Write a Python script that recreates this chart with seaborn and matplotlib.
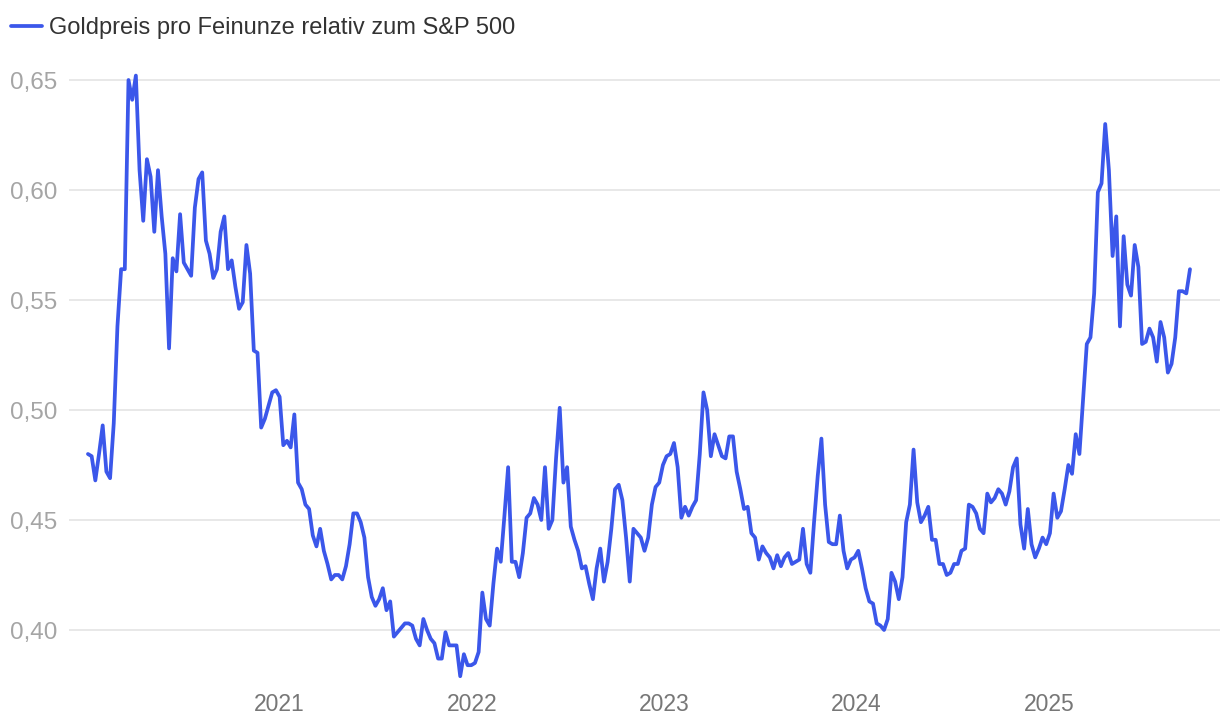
import pandas as pd
import seaborn as sns
import matplotlib.pyplot as plt
from matplotlib.ticker import FuncFormatter

# weekly values (Fridays), gold price per ounce divided by S&P 500
ratio_2020 = [0.480, 0.479, 0.468, 0.480, 0.493, 0.472, 0.469, 0.494, 0.538, 0.564, 0.564, 0.650, 0.641, 0.652,
              0.609, 0.586, 0.614, 0.606, 0.581, 0.609, 0.588, 0.571, 0.528, 0.569, 0.563, 0.589, 0.567,
              0.564, 0.561, 0.592, 0.605, 0.608, 0.577, 0.571, 0.560, 0.564, 0.581, 0.588, 0.564, 0.568, 0.556,
              0.546, 0.549, 0.575, 0.562, 0.527, 0.526,
              0.492, 0.496, 0.502, 0.508, 0.509]
ratio_2021 = [0.506, 0.484, 0.486, 0.483, 0.498,
              0.467, 0.464, 0.457, 0.455, 0.443, 0.438, 0.446, 0.436, 0.430, 0.423, 0.425, 0.425, 0.423,
              0.429, 0.439, 0.453, 0.453, 0.449, 0.442, 0.424, 0.415, 0.411, 0.414, 0.419, 0.409, 0.413, 0.397, 0.399,
              0.401, 0.403, 0.403, 0.402, 0.396, 0.393, 0.405, 0.400, 0.396, 0.394, 0.387, 0.387, 0.399, 0.393,
              0.393, 0.393, 0.379, 0.389, 0.384]
ratio_2022 = [0.384, 0.385, 0.390,
              0.417, 0.405, 0.402, 0.421, 0.437, 0.431, 0.452, 0.474, 0.431, 0.431, 0.424, 0.435, 0.451, 0.453,
              0.460, 0.457, 0.450, 0.474, 0.446, 0.450, 0.478, 0.501, 0.467, 0.474,
              0.447, 0.441, 0.436, 0.428, 0.429, 0.421, 0.414, 0.428, 0.437, 0.422, 0.431, 0.446, 0.464, 0.466,
              0.459, 0.442, 0.422, 0.446, 0.444, 0.442, 0.436, 0.442,
              0.457, 0.465, 0.467, 0.475]
ratio_2023 = [0.479, 0.480, 0.485, 0.474, 0.451, 0.456, 0.452, 0.456, 0.459, 0.480, 0.508, 0.500, 0.479, 0.489,
              0.484, 0.479, 0.478, 0.488, 0.488,
              0.472, 0.464, 0.455, 0.456, 0.444, 0.442, 0.432, 0.438, 0.435, 0.433, 0.428, 0.434, 0.429, 0.433,
              0.435, 0.430, 0.431, 0.432, 0.446, 0.430, 0.426, 0.449, 0.470, 0.487,
              0.457, 0.440, 0.439, 0.439, 0.452, 0.436, 0.428, 0.432, 0.433]
ratio_2024 = [0.436, 0.428, 0.419, 0.413, 0.412, 0.403, 0.402, 0.400, 0.405, 0.426, 0.422, 0.414, 0.424,
              0.449, 0.457, 0.482, 0.458, 0.449, 0.452, 0.456, 0.441, 0.441, 0.430, 0.430, 0.425, 0.426, 0.430,
              0.430, 0.436, 0.437, 0.457, 0.456, 0.453, 0.446, 0.444,
              0.462, 0.458, 0.460, 0.464, 0.462, 0.457, 0.463, 0.474, 0.478, 0.448, 0.437, 0.455, 0.439, 0.433,
              0.437, 0.442, 0.439]
ratio_2025 = [0.444, 0.462, 0.451, 0.454, 0.464, 0.475, 0.471, 0.489, 0.480,
              0.505, 0.530, 0.533, 0.553, 0.599, 0.603, 0.630, 0.609, 0.570, 0.588, 0.538, 0.579, 0.557, 0.552,
              0.575, 0.565, 0.530, 0.531, 0.537, 0.533, 0.522, 0.540, 0.533, 0.517, 0.521, 0.533, 0.554, 0.554,
              0.553, 0.564]

first_week = "2020-01-03"
year_ticks = ["2021-01-01", "2022-01-01", "2023-01-01", "2024-01-01", "2025-01-01"]
year_labels = ["2021", "2022", "2023", "2024", "2025"]
y_ticks = [0.40, 0.45, 0.50, 0.55, 0.60, 0.65]
series_name = "Goldpreis pro Feinunze relativ zum S&P 500"

values = ratio_2020 + ratio_2021 + ratio_2022 + ratio_2023 + ratio_2024 + ratio_2025
df = pd.DataFrame({
    "date": pd.date_range(first_week, periods=len(values), freq="W-FRI"),
    "value": values,
})

sns.set_style("white")
plt.rcParams["font.family"] = ["Liberation Sans", "DejaVu Sans"]

fig = plt.figure(figsize=(12.2, 7.24), dpi=100)
ax = fig.add_axes([69 / 1220, (724 - 687.2) / 724, (1220 - 69) / 1220, 629.2 / 724])

sns.lineplot(data=df, x="date", y="value", ax=ax, color="#3b57ea", linewidth=2.7, label=series_name)

ax.set_xlim(pd.Timestamp("2019-11-28"), pd.Timestamp("2025-11-22"))
ax.set_ylim(0.374, 0.66)
ax.set_yticks(y_ticks)
ax.yaxis.set_major_formatter(FuncFormatter(lambda v, p: f"{v:.2f}".replace(".", ",")))
ax.set_xticks(pd.to_datetime(year_ticks))
ax.set_xticklabels(year_labels)
ax.set_xlabel("")
ax.set_ylabel("")

ax.yaxis.grid(True, color="#e6e6e6", linewidth=1.3)
ax.xaxis.grid(False)
ax.set_axisbelow(True)
for s in ax.spines.values():
    s.set_visible(False)

ax.tick_params(axis="y", length=0, pad=8.5, labelsize=17.5, labelcolor="#a5a5a5")
ax.tick_params(axis="x", length=0, pad=4.5, labelsize=16.5, labelcolor="#777777")

leg = ax.legend(loc="center left", bbox_to_anchor=(11 / 1220, 1 - 28 / 724), bbox_transform=fig.transFigure,
                frameon=False, fontsize=17, handlelength=1.3, handletextpad=0.3,
                borderpad=0, borderaxespad=0)
for t in leg.get_texts():
    t.set_color("#333333")

fig.savefig("out.png", dpi=100)
